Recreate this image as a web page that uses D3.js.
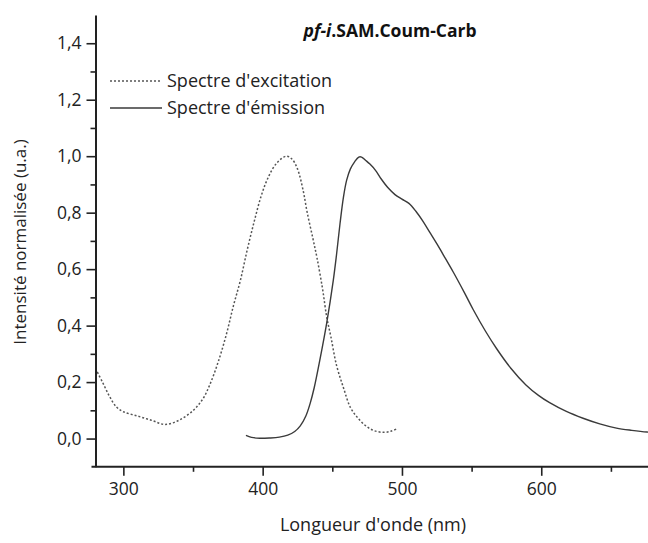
<!DOCTYPE html>
<html>
<head>
<meta charset="utf-8">
<script src="https://cdn.jsdelivr.net/npm/d3@7/dist/d3.min.js"></script>
<style>
  html, body { margin: 0; padding: 0; background: #fff; }
  svg { display: block; font-family: "Open Sans", "Liberation Sans", sans-serif; }
</style>
</head>
<body>
<svg id="chart" width="648" height="543"></svg>
<script>
// ---- data ----
const excitationWavelength = [280,285,290,295,300,310,320,330,340,350,357,362,368,374,379,384,389,394,399,404,410,417,421,425,429,432,436,439,443,446,449,453,458,463,468,474,480,487,492,496];
const excitationIntensity  = [0.248,0.2,0.15,0.112,0.095,0.08,0.065,0.05,0.065,0.099,0.14,0.19,0.27,0.37,0.47,0.56,0.67,0.77,0.86,0.925,0.975,1.0,0.99,0.955,0.88,0.8,0.71,0.64,0.53,0.43,0.36,0.26,0.18,0.11,0.075,0.045,0.028,0.022,0.026,0.034];

const emissionWavelength = [388,392,398,405,412,418,423,427,431,434,437,441,446,450.7,453,455.5,458,460.3,463,466,469,471,474,477,481,485,490,495,500,505,510,515,520,525,530,537,545,551,560,568,578,589,598,606,618,630,642,654,665,676,680];
const emissionIntensity  = [0.011,0.004,0.001,0.002,0.005,0.012,0.025,0.045,0.08,0.123,0.18,0.277,0.41,0.56,0.65,0.76,0.855,0.915,0.955,0.98,0.997,0.997,0.985,0.972,0.95,0.92,0.888,0.864,0.848,0.833,0.805,0.77,0.73,0.69,0.648,0.588,0.515,0.458,0.38,0.318,0.25,0.19,0.153,0.127,0.096,0.072,0.052,0.037,0.029,0.023,0.022];

const xMajorTicks = [300, 400, 500, 600];
const xMinorTicks = [350, 450, 550, 650];
const yMajorTicks = [0.0, 0.2, 0.4, 0.6, 0.8, 1.0, 1.2, 1.4];
const yMinorTicks = [0.1, 0.3, 0.5, 0.7, 0.9, 1.1, 1.3];

const seriesNames = ["Spectre d'excitation", "Spectre d'émission"];
const titleItalic = "pf-i";
const titleRest = ".SAM.Coum-Carb";
const xLabel = "Longueur d'onde (nm)";
const yLabel = "Intensité normalisée (u.a.)";

// ---- layout ----
const svg = d3.select("#chart");
const x = d3.scaleLinear().domain([280, 680]).range([95.5, 652.7]);
const y = d3.scaleLinear().domain([-0.1, 1.5]).range([466.8, 15]);
const axisColor = "#222";
const textColor = "#222";
const fmt = v => d3.format(".1f")(v).replace(".", ",");

svg.append("defs").append("clipPath").attr("id", "plotclip")
  .append("rect").attr("x", 95.5).attr("y", 10).attr("width", 560).attr("height", 457);

const line = d3.line().x(d => x(d[0])).y(d => y(d[1])).curve(d3.curveCatmullRom.alpha(0.5));
const exc = excitationWavelength.map((w, i) => [w, excitationIntensity[i]]);
const emi = emissionWavelength.map((w, i) => [w, emissionIntensity[i]]);

const plot = svg.append("g").attr("clip-path", "url(#plotclip)");
plot.append("path").datum(exc).attr("d", line)
  .attr("fill", "none").attr("stroke", "#555").attr("stroke-width", 1.5)
  .attr("stroke-dasharray", "2,2");
plot.append("path").datum(emi).attr("d", line)
  .attr("fill", "none").attr("stroke", "#3a3a3a").attr("stroke-width", 1.4);

// axes
const xAxisY = y(-0.1);
const xAxis = svg.append("g").attr("transform", `translate(0,${xAxisY})`)
  .call(d3.axisBottom(x).tickValues(xMajorTicks).tickSize(9).tickSizeOuter(0).tickPadding(7).tickFormat(d3.format("d")));
const xMinor = svg.append("g").attr("transform", `translate(0,${xAxisY})`)
  .call(d3.axisBottom(x).tickValues(xMinorTicks).tickSize(5).tickSizeOuter(0).tickFormat(""));
xMinor.select(".domain").remove();

const yAxis = svg.append("g").attr("transform", `translate(${x(280)},0)`)
  .call(d3.axisLeft(y).tickValues(yMajorTicks).tickSize(9).tickSizeOuter(0).tickPadding(5).tickFormat(fmt));
const yMinor = svg.append("g").attr("transform", `translate(${x(280)},0)`)
  .call(d3.axisLeft(y).tickValues(yMinorTicks).tickSize(5).tickSizeOuter(0).tickFormat(""));
yMinor.select(".domain").remove();

[xAxis, xMinor, yAxis, yMinor].forEach(g => {
  g.selectAll(".domain").attr("stroke", axisColor).attr("stroke-width", 2);
  g.selectAll(".tick line").attr("stroke", axisColor).attr("stroke-width", 1.6);
  g.selectAll(".tick text").attr("fill", textColor).style("font-size", "17.5px")
    .style("font-family", "'Open Sans', sans-serif");
});
xAxis.select(".domain").attr("d", `M91.5,0H648`);

// title
const title = svg.append("text").attr("x", 390).attr("y", 37).attr("text-anchor", "middle")
  .attr("fill", "#111").style("font-size", "17.5px").style("font-weight", "bold");
title.append("tspan").style("font-style", "italic").text(titleItalic);
title.append("tspan").text(titleRest);

// legend
const legend = svg.append("g");
const legY = [81, 108];
legend.append("line").attr("x1", 110).attr("x2", 162).attr("y1", legY[0]).attr("y2", legY[0])
  .attr("stroke", "#555").attr("stroke-width", 1.5).attr("stroke-dasharray", "2,2");
legend.append("line").attr("x1", 110).attr("x2", 162).attr("y1", legY[1]).attr("y2", legY[1])
  .attr("stroke", "#3a3a3a").attr("stroke-width", 1.4);
seriesNames.forEach((n, i) => {
  legend.append("text").attr("x", 167).attr("y", legY[i]).attr("dy", "0.35em")
    .attr("fill", textColor).style("font-size", "18px").text(n);
});

// axis labels
svg.append("text").attr("x", 373).attr("y", 531).attr("text-anchor", "middle")
  .attr("fill", textColor).style("font-size", "18px").text(xLabel);
svg.append("text").attr("transform", "rotate(-90)").attr("x", -242).attr("y", 26)
  .attr("text-anchor", "middle").attr("fill", textColor).style("font-size", "17px").text(yLabel);
</script>
</body>
</html>
